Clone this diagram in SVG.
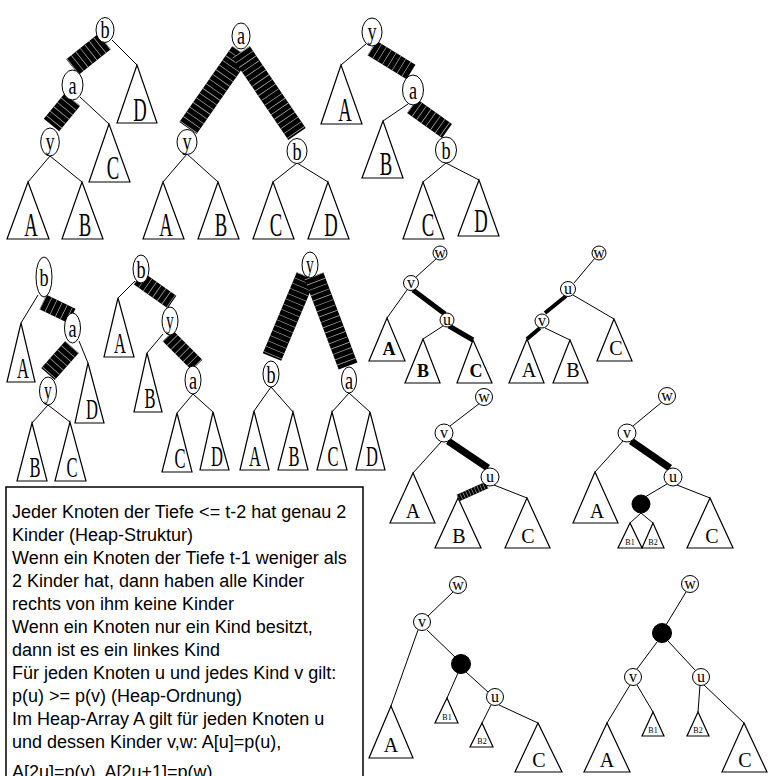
<svg xmlns="http://www.w3.org/2000/svg" width="769" height="776" viewBox="0 0 769 776">
<style>
.e{fill:#fff;stroke:#000;stroke-width:1}
.t{fill:#fff;stroke:#000;stroke-width:1.2}
.ln{stroke:#000;stroke-width:1;fill:none}
.bd{stroke:#000;fill:none;stroke-linecap:butt}
.hd{stroke:#b0b0b0;fill:none;stroke-dasharray:0.7 5;stroke-linecap:butt}
.dot{fill:#000;stroke:#000}
.n{font-family:"Liberation Serif",serif;font-size:26px;text-anchor:middle}
.L{font-family:"Liberation Serif",serif;font-size:34px;text-anchor:middle}
.M{font-family:"Liberation Serif",serif;font-size:30px;text-anchor:middle}
.s{font-family:"Liberation Serif",serif;font-size:16px;text-anchor:middle}
.sb{font-family:"Liberation Serif",serif;font-size:18px;font-weight:bold;text-anchor:middle}
.m{font-family:"Liberation Serif",serif;font-size:20px;text-anchor:middle}
.xs{font-family:"Liberation Serif",serif;font-size:8px;text-anchor:middle}
.box{font-family:"Liberation Sans",Arial,sans-serif;font-size:18px}
</style>

<g id="connectors">
<!-- tree 1 -->
<line class="bd" x1="104.5" y1="41.5" x2="72.5" y2="67" stroke-width="20"/>
<line class="hd" x1="104.5" y1="41.5" x2="72.5" y2="67" stroke-width="20"/>
<line class="bd" x1="72.5" y1="99.5" x2="51.5" y2="125" stroke-width="20"/>
<line class="hd" x1="72.5" y1="99.5" x2="51.5" y2="125" stroke-width="20"/>
<line class="ln" x1="112" y1="40" x2="137" y2="65"/>
<line class="ln" x1="80" y1="97" x2="109" y2="124"/>
<line class="ln" x1="50" y1="156" x2="28" y2="182"/>
<line class="ln" x1="50" y1="156" x2="82" y2="182"/>
<!-- tree 2 -->
<line class="bd" x1="241" y1="52" x2="188" y2="128" stroke-width="21"/>
<line class="hd" x1="241" y1="52" x2="188" y2="128" stroke-width="21"/>
<line class="bd" x1="241" y1="52" x2="297" y2="134" stroke-width="21"/>
<line class="hd" x1="241" y1="52" x2="297" y2="134" stroke-width="21"/>
<line class="ln" x1="187" y1="154" x2="163" y2="182"/>
<line class="ln" x1="187" y1="154" x2="218" y2="182"/>
<line class="ln" x1="297" y1="163" x2="273" y2="182"/>
<line class="ln" x1="297" y1="163" x2="328" y2="182"/>
<!-- tree 3 -->
<line class="ln" x1="366" y1="44" x2="341" y2="65"/>
<line class="bd" x1="372" y1="48" x2="411" y2="72" stroke-width="17"/>
<line class="hd" x1="372" y1="48" x2="411" y2="72" stroke-width="17"/>
<line class="ln" x1="408" y1="104" x2="383" y2="121"/>
<line class="bd" x1="412" y1="106" x2="447" y2="131" stroke-width="17"/>
<line class="hd" x1="412" y1="106" x2="447" y2="131" stroke-width="17"/>
<line class="ln" x1="446" y1="163" x2="423" y2="182"/>
<line class="ln" x1="446" y1="163" x2="479" y2="180"/>
<!-- tree 4 -->
<line class="ln" x1="38" y1="295" x2="21" y2="323"/>
<line class="bd" x1="43" y1="302" x2="72" y2="316" stroke-width="16"/>
<line class="hd" x1="43" y1="302" x2="72" y2="316" stroke-width="16"/>
<line class="ln" x1="79" y1="341" x2="88" y2="363"/>
<line class="bd" x1="72" y1="347" x2="48" y2="374" stroke-width="18"/>
<line class="hd" x1="72" y1="347" x2="48" y2="374" stroke-width="18"/>
<line class="ln" x1="48" y1="405" x2="32" y2="423"/>
<line class="ln" x1="48" y1="405" x2="70" y2="422"/>
<!-- tree 5 -->
<line class="ln" x1="135" y1="281" x2="118" y2="298"/>
<line class="bd" x1="138" y1="278" x2="172" y2="302" stroke-width="15"/>
<line class="hd" x1="138" y1="278" x2="172" y2="302" stroke-width="15"/>
<line class="ln" x1="163" y1="334" x2="147" y2="353"/>
<line class="bd" x1="168" y1="336" x2="197" y2="365" stroke-width="15"/>
<line class="hd" x1="168" y1="336" x2="197" y2="365" stroke-width="15"/>
<line class="ln" x1="193" y1="394" x2="177" y2="413"/>
<line class="ln" x1="193" y1="394" x2="213" y2="412"/>
<!-- tree 6 -->
<line class="bd" x1="306" y1="276" x2="272" y2="357" stroke-width="20"/>
<line class="hd" x1="306" y1="276" x2="272" y2="357" stroke-width="20"/>
<line class="bd" x1="314" y1="276" x2="348" y2="366" stroke-width="20"/>
<line class="hd" x1="314" y1="276" x2="348" y2="366" stroke-width="20"/>
<line class="ln" x1="271" y1="387" x2="254" y2="411"/>
<line class="ln" x1="271" y1="387" x2="293" y2="412"/>
<line class="ln" x1="349" y1="393" x2="332" y2="412"/>
<line class="ln" x1="349" y1="393" x2="370" y2="412"/>
<!-- tree 7 -->
<line class="ln" x1="436" y1="259" x2="416" y2="277"/>
<line class="ln" x1="407" y1="290" x2="387" y2="318"/>
<line class="bd" x1="413" y1="290" x2="445" y2="314" stroke-width="5"/>
<line class="ln" x1="443" y1="326" x2="423" y2="339"/>
<line class="bd" x1="449" y1="326" x2="473" y2="340" stroke-width="5"/>
<!-- tree 8 -->
<line class="ln" x1="595" y1="258" x2="574" y2="283"/>
<line class="bd" x1="566" y1="296" x2="545" y2="313" stroke-width="4"/>
<line class="ln" x1="573" y1="295" x2="614" y2="319"/>
<line class="bd" x1="540" y1="328" x2="527" y2="339" stroke-width="4"/>
<line class="ln" x1="545" y1="328" x2="570" y2="340"/>
<!-- tree 9 -->
<line class="ln" x1="480" y1="403" x2="450" y2="426"/>
<line class="ln" x1="441" y1="442" x2="413" y2="473"/>
<line class="bd" x1="448" y1="441" x2="488" y2="468" stroke-width="7"/>
<line class="bd" x1="487" y1="485" x2="458" y2="498" stroke-width="7"/>
<line class="hd" x1="487" y1="485" x2="458" y2="498" stroke-width="7" style="stroke-dasharray:0.6 2.5"/>
<line class="ln" x1="494" y1="485" x2="527" y2="498"/>
<!-- tree 10 -->
<line class="ln" x1="662" y1="402" x2="633" y2="426"/>
<line class="ln" x1="623" y1="441" x2="595" y2="472"/>
<line class="bd" x1="631" y1="441" x2="670" y2="468" stroke-width="7"/>
<line class="ln" x1="667" y1="484" x2="645" y2="497"/>
<line class="ln" x1="677" y1="485" x2="710" y2="498"/>
<line class="ln" x1="641" y1="513" x2="630" y2="523"/>
<line class="ln" x1="641" y1="513" x2="653" y2="523"/>
<!-- tree 11 -->
<line class="ln" x1="453" y1="592" x2="428" y2="616"/>
<line class="ln" x1="418" y1="630" x2="391" y2="706"/>
<line class="ln" x1="427" y1="630" x2="455" y2="657"/>
<line class="ln" x1="458" y1="673" x2="447" y2="698"/>
<line class="ln" x1="466" y1="672" x2="488" y2="692"/>
<line class="ln" x1="491" y1="705" x2="482" y2="723"/>
<line class="ln" x1="499" y1="705" x2="538" y2="723"/>
<!-- tree 12 -->
<line class="ln" x1="686" y1="592" x2="666" y2="625"/>
<line class="ln" x1="657" y1="642" x2="637" y2="669"/>
<line class="ln" x1="668" y1="641" x2="695" y2="670"/>
<line class="ln" x1="630" y1="685" x2="607" y2="723"/>
<line class="ln" x1="637" y1="685" x2="653" y2="712"/>
<line class="ln" x1="700" y1="685" x2="698" y2="712"/>
<line class="ln" x1="704" y1="685" x2="744" y2="723"/>
</g>

<!-- Tree 1 -->
<g id="t1-b"><ellipse class="e" cx="105" cy="30" rx="9" ry="12.5"/><text class="n" transform="translate(105,38) scale(0.7,1)">b</text></g>
<g id="t1-a"><ellipse class="e" cx="72.5" cy="85" rx="10.5" ry="15"/><text class="n" transform="translate(72.5,94) scale(0.7,1)">a</text></g>
<g id="t1-y"><ellipse class="e" cx="50" cy="142" rx="9.3" ry="14"/><text class="n" transform="translate(50,150) scale(0.7,1)">y</text></g>
<g id="t1-D"><polygon class="t" points="137,65 117,123 157,123"/><text class="L" transform="translate(140,121) scale(0.55,1)">D</text></g>
<g id="t1-C"><polygon class="t" points="109,124 89,182 130,182"/><text class="L" transform="translate(113,179) scale(0.55,1)">C</text></g>
<g id="t1-A"><polygon class="t" points="28,182 7,239 49,239"/><text class="L" transform="translate(31,236) scale(0.55,1)">A</text></g>
<g id="t1-B"><polygon class="t" points="82,182 62,239 103,239"/><text class="L" transform="translate(85,236) scale(0.55,1)">B</text></g>

<!-- Tree 2 -->
<g id="t2-a"><ellipse class="e" cx="241" cy="36" rx="9" ry="13"/><text class="n" transform="translate(241,44) scale(0.7,1)">a</text></g>
<g id="t2-y"><ellipse class="e" cx="187" cy="142" rx="10" ry="12.5"/><text class="n" transform="translate(187,150) scale(0.7,1)">y</text></g>
<g id="t2-b"><ellipse class="e" cx="297" cy="151" rx="10" ry="12.5"/><text class="n" transform="translate(297,160) scale(0.7,1)">b</text></g>
<g id="t2-A"><polygon class="t" points="163,182 143,239 184,239"/><text class="L" transform="translate(166,236) scale(0.55,1)">A</text></g>
<g id="t2-B"><polygon class="t" points="218,182 198,239 239,239"/><text class="L" transform="translate(221,236) scale(0.55,1)">B</text></g>
<g id="t2-C"><polygon class="t" points="273,182 253,239 294,239"/><text class="L" transform="translate(276,236) scale(0.55,1)">C</text></g>
<g id="t2-D"><polygon class="t" points="328,182 308,239 349,239"/><text class="L" transform="translate(331,236) scale(0.55,1)">D</text></g>

<!-- Tree 3 -->
<g id="t3-y"><ellipse class="e" cx="372" cy="32" rx="10" ry="14"/><text class="n" transform="translate(372,40) scale(0.7,1)">y</text></g>
<g id="t3-a"><ellipse class="e" cx="413" cy="90" rx="10.5" ry="15"/><text class="n" transform="translate(413,99) scale(0.7,1)">a</text></g>
<g id="t3-b"><ellipse class="e" cx="446" cy="150" rx="10.5" ry="13"/><text class="n" transform="translate(446,159) scale(0.7,1)">b</text></g>
<g id="t3-A"><polygon class="t" points="341,65 321,124 362,124"/><text class="L" transform="translate(345,121) scale(0.55,1)">A</text></g>
<g id="t3-B"><polygon class="t" points="383,121 362,178 403,178"/><text class="L" transform="translate(386,175) scale(0.55,1)">B</text></g>
<g id="t3-C"><polygon class="t" points="423,182 403,239 444,239"/><text class="L" transform="translate(428,236) scale(0.55,1)">C</text></g>
<g id="t3-D"><polygon class="t" points="479,180 458,236 499,236"/><text class="L" transform="translate(481,232) scale(0.55,1)">D</text></g>

<!-- Tree 4 -->
<g id="t4-b"><ellipse class="e" cx="44" cy="277" rx="8" ry="20"/><text class="n" transform="translate(44,286) scale(0.7,1)">b</text></g>
<g id="t4-a"><ellipse class="e" cx="72.5" cy="328" rx="8" ry="15"/><text class="n" transform="translate(72.5,337) scale(0.7,1)">a</text></g>
<g id="t4-y"><ellipse class="e" cx="48" cy="391" rx="8.5" ry="14"/><text class="n" transform="translate(48,399) scale(0.6,1)">y</text></g>
<g id="t4-A"><polygon class="t" points="21,323 7,382 35,382"/><text class="M" transform="translate(23,378) scale(0.55,1)">A</text></g>
<g id="t4-D"><polygon class="t" points="88,363 75,423 104,423"/><text class="M" transform="translate(92,419) scale(0.55,1)">D</text></g>
<g id="t4-B"><polygon class="t" points="32,423 17,481 47,481"/><text class="M" transform="translate(35,477) scale(0.55,1)">B</text></g>
<g id="t4-C"><polygon class="t" points="70,422 55,481 86,481"/><text class="M" transform="translate(72,477) scale(0.55,1)">C</text></g>

<!-- Tree 5 -->
<g id="t5-b"><ellipse class="e" cx="141" cy="269" rx="8" ry="14"/><text class="n" transform="translate(141,278) scale(0.7,1)">b</text></g>
<g id="t5-y"><ellipse class="e" cx="170" cy="321" rx="8" ry="14"/><text class="n" transform="translate(170,329) scale(0.6,1)">y</text></g>
<g id="t5-a"><ellipse class="e" cx="193" cy="380" rx="8" ry="14"/><text class="n" transform="translate(193,389) scale(0.7,1)">a</text></g>
<g id="t5-A"><polygon class="t" points="118,298 104,357 134,357"/><text class="M" transform="translate(120,353) scale(0.55,1)">A</text></g>
<g id="t5-B"><polygon class="t" points="147,353 134,412 162,412"/><text class="M" transform="translate(150,408) scale(0.55,1)">B</text></g>
<g id="t5-C"><polygon class="t" points="177,413 162,472 192,472"/><text class="M" transform="translate(180,468) scale(0.55,1)">C</text></g>
<g id="t5-D"><polygon class="t" points="213,412 200,470 229,470"/><text class="M" transform="translate(217,466) scale(0.55,1)">D</text></g>

<!-- Tree 6 -->
<g id="t6-y"><ellipse class="e" cx="310" cy="265" rx="8" ry="13"/><text class="n" transform="translate(310,273) scale(0.6,1)">y</text></g>
<g id="t6-b"><ellipse class="e" cx="271" cy="374" rx="8" ry="13"/><text class="n" transform="translate(271,383) scale(0.7,1)">b</text></g>
<g id="t6-a"><ellipse class="e" cx="349" cy="380" rx="7.5" ry="13"/><text class="n" transform="translate(349,389) scale(0.7,1)">a</text></g>
<g id="t6-A"><polygon class="t" points="254,411 240,470 269,470"/><text class="M" transform="translate(255,466) scale(0.55,1)">A</text></g>
<g id="t6-B"><polygon class="t" points="293,412 278,470 308,470"/><text class="M" transform="translate(294,466) scale(0.55,1)">B</text></g>
<g id="t6-C"><polygon class="t" points="332,412 317,470 347,470"/><text class="M" transform="translate(333,466) scale(0.55,1)">C</text></g>
<g id="t6-D"><polygon class="t" points="370,412 356,470 385,470"/><text class="M" transform="translate(372,466) scale(0.55,1)">D</text></g>

<!-- Tree 7 -->
<g id="t7-w"><circle class="e" cx="440" cy="253" r="7"/><text class="s" x="440" y="258">w</text></g>
<g id="t7-v"><circle class="e" cx="411" cy="283" r="7.5"/><text class="s" x="411" y="288">v</text></g>
<g id="t7-u"><circle class="e" cx="447" cy="320" r="7"/><text class="s" x="447" y="325">u</text></g>
<g id="t7-A"><polygon class="t" points="387,318 369,361 405,361"/><text class="sb" x="389" y="355">A</text></g>
<g id="t7-B"><polygon class="t" points="423,339 405,383 440,383"/><text class="sb" x="423" y="377">B</text></g>
<g id="t7-C"><polygon class="t" points="473,340 457,383 492,383"/><text class="sb" x="476" y="377">C</text></g>

<!-- Tree 8 -->
<g id="t8-w"><circle class="e" cx="599" cy="253" r="7"/><text class="s" x="599" y="258">w</text></g>
<g id="t8-u"><circle class="e" cx="568" cy="289" r="7.5"/><text class="s" x="568" y="294">u</text></g>
<g id="t8-v"><circle class="e" cx="542" cy="321" r="7"/><text class="s" x="542" y="326">v</text></g>
<g id="t8-C"><polygon class="t" points="614,319 597,361 632,361"/><text class="m" x="616" y="355">C</text></g>
<g id="t8-A"><polygon class="t" points="527,339 509,383 544,383"/><text class="m" x="529" y="377">A</text></g>
<g id="t8-B"><polygon class="t" points="570,340 553,383 588,383"/><text class="m" x="573" y="377">B</text></g>

<!-- Tree 9 -->
<g id="t9-w"><circle class="e" cx="484" cy="397" r="8.5"/><text class="s" x="484" y="402">w</text></g>
<g id="t9-v"><circle class="e" cx="444" cy="433" r="9"/><text class="s" x="444" y="438">v</text></g>
<g id="t9-u"><circle class="e" cx="490" cy="477" r="9"/><text class="s" x="490" y="482">u</text></g>
<g id="t9-A"><polygon class="t" points="413,473 390,523 435,523"/><text class="m" x="413" y="518">A</text></g>
<g id="t9-B"><polygon class="t" points="458,498 435,548 481,548"/><text class="m" x="459" y="543">B</text></g>
<g id="t9-C"><polygon class="t" points="527,498 505,548 550,548"/><text class="m" x="528" y="543">C</text></g>

<!-- Tree 10 -->
<g id="t10-w"><circle class="e" cx="667" cy="396" r="8.5"/><text class="s" x="667" y="401">w</text></g>
<g id="t10-v"><circle class="e" cx="627" cy="433" r="9"/><text class="s" x="627" y="438">v</text></g>
<g id="t10-u"><circle class="e" cx="673" cy="477" r="9"/><text class="s" x="673" y="482">u</text></g>
<g id="t10-dot"><circle class="dot" cx="641" cy="504" r="9"/></g>
<g id="t10-A"><polygon class="t" points="595,472 573,523 618,523"/><text class="m" x="597" y="518">A</text></g>
<g id="t10-C"><polygon class="t" points="710,498 687,548 733,548"/><text class="m" x="712" y="543">C</text></g>
<g id="t10-B1"><polygon class="t" points="630,523 618,548 642,548"/><text class="xs" x="630" y="545">B1</text></g>
<g id="t10-B2"><polygon class="t" points="653,523 642,548 664,548"/><text class="xs" x="653" y="545">B2</text></g>

<!-- Tree 11 -->
<g id="t11-w"><circle class="e" cx="458" cy="585" r="8.5"/><text class="s" x="458" y="590">w</text></g>
<g id="t11-v"><circle class="e" cx="422" cy="622" r="8.5"/><text class="s" x="422" y="627">v</text></g>
<g id="t11-dot"><circle class="dot" cx="461" cy="664" r="9.5"/></g>
<g id="t11-u"><circle class="e" cx="495" cy="697" r="8.5"/><text class="s" x="495" y="702">u</text></g>
<g id="t11-A"><polygon class="t" points="391,706 369,758 413,758"/><text class="m" x="391" y="752">A</text></g>
<g id="t11-B1"><polygon class="t" points="447,698 435,723 458,723"/><text class="xs" x="447" y="720">B1</text></g>
<g id="t11-B2"><polygon class="t" points="482,723 470,747 493,747"/><text class="xs" x="482" y="744">B2</text></g>
<g id="t11-C"><polygon class="t" points="538,723 515,772 562,772"/><text class="m" x="539" y="767">C</text></g>

<!-- Tree 12 -->
<g id="t12-w"><circle class="e" cx="690" cy="584" r="8.5"/><text class="s" x="690" y="589">w</text></g>
<g id="t12-dot"><circle class="dot" cx="662" cy="633" r="9.5"/></g>
<g id="t12-v"><circle class="e" cx="633" cy="677" r="8.5"/><text class="s" x="633" y="682">v</text></g>
<g id="t12-u"><circle class="e" cx="701" cy="677" r="8.5"/><text class="s" x="701" y="682">u</text></g>
<g id="t12-A"><polygon class="t" points="607,723 584,772 630,772"/><text class="m" x="607" y="767">A</text></g>
<g id="t12-B1"><polygon class="t" points="653,712 642,736 664,736"/><text class="xs" x="653" y="733">B1</text></g>
<g id="t12-B2"><polygon class="t" points="698,712 687,736 709,736"/><text class="xs" x="698" y="733">B2</text></g>
<g id="t12-C"><polygon class="t" points="744,723 722,772 767,772"/><text class="m" x="745" y="767">C</text></g>

<!-- Text box -->
<g id="textbox">
<rect x="6" y="487" width="357" height="300" fill="#fff" stroke="#000" stroke-width="1.5"/>
<text class="box" x="12">
<tspan x="12" y="518">Jeder Knoten der Tiefe &lt;= t-2 hat genau 2</tspan>
<tspan x="12" y="541">Kinder (Heap-Struktur)</tspan>
<tspan x="12" y="564">Wenn ein Knoten der Tiefe t-1 weniger als</tspan>
<tspan x="12" y="587">2 Kinder hat, dann haben alle Kinder</tspan>
<tspan x="12" y="610">rechts von ihm keine Kinder</tspan>
<tspan x="12" y="633">Wenn ein Knoten nur ein Kind besitzt,</tspan>
<tspan x="12" y="656">dann ist es ein linkes Kind</tspan>
<tspan x="12" y="679">Für jeden Knoten u und jedes Kind v gilt:</tspan>
<tspan x="12" y="702">p(u) &gt;= p(v) (Heap-Ordnung)</tspan>
<tspan x="12" y="725">Im Heap-Array A gilt für jeden Knoten u</tspan>
<tspan x="12" y="748">und dessen Kinder v,w: A[u]=p(u),</tspan>
<tspan x="12" y="778">A[2u]=p(v), A[2u+1]=p(w)</tspan>
</text>
</g>
</svg>
